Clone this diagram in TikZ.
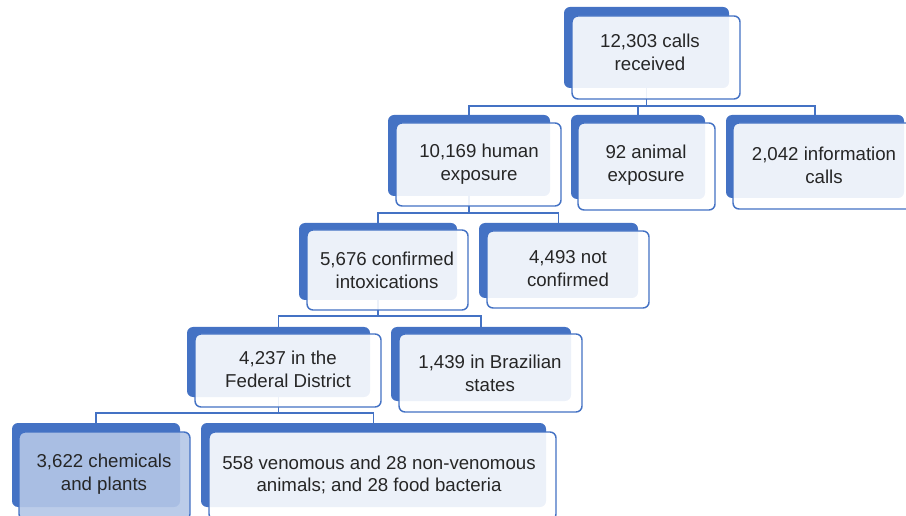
\documentclass[tikz,border=0pt]{standalone}
\usepackage{fontspec}
\setmainfont{Liberation Sans}
\definecolor{acc}{HTML}{4472C4}
\definecolor{txt}{HTML}{262626}
\definecolor{hl}{HTML}{B4C7E7}
\tikzset{
  back/.style={rectangle, rounded corners=4.5pt, fill=acc, inner sep=0pt, outer sep=0pt},
  front/.style={rectangle, rounded corners=4.5pt, draw=acc, line width=1.1pt, fill=white, fill opacity=0.9, inner sep=0pt, outer sep=0pt},
  fronthl/.style={front, fill=hl},
  conn/.style={draw=acc, line width=1pt},
  lbl/.style={font=\fontsize{14}{17}\selectfont, text=txt, align=center, inner sep=0pt}
}
\newcommand\placebox[6]{\node[#6, minimum width={(#4-#2)*0.75pt}, minimum height={(#5-#3)*0.75pt}] (#1) at ({(#2+#4)/2},{(#3+#5)/2}) {};}
\begin{document}
\begin{tikzpicture}[x=0.75pt,y=-0.75pt]
\useasboundingbox (0,0) rectangle (906,516);
% back boxes
\placebox{a}{564}{7}{729}{88}{back}
\placebox{b}{388}{115}{550}{196}{back}
\placebox{c}{571}{115}{705}{199}{back}
\placebox{d}{726}{115}{904}{198}{back}
\placebox{e}{299}{223}{457}{300}{back}
\placebox{f}{479}{223}{638}{298}{back}
\placebox{g}{187}{327}{370}{397}{back}
\placebox{h}{391}{327}{571}{401}{back}
\placebox{i}{12}{423}{180}{507}{back}
\placebox{j}{201}{423}{546}{507}{back}
% connector levels
\coordinate (ma) at (0,106);
\coordinate (mb) at (0,213);
\coordinate (me) at (0,316);
\coordinate (mg) at (0,413);
\draw[conn] (a.south) -- (a.south |- ma);
\draw[conn] (b.north) -- (b.north |- ma) -- (d.north |- ma) -- (d.north);
\draw[conn] (c.north) -- (c.north |- ma);
\draw[conn] (b.south) -- (b.south |- mb);
\draw[conn] (e.north) -- (e.north |- mb) -- (f.north |- mb) -- (f.north);
\draw[conn] (e.south) -- (e.south |- me);
\draw[conn] (g.north) -- (g.north |- me) -- (h.north |- me) -- (h.north);
\draw[conn] (g.south) -- (g.south |- mg);
\draw[conn] (i.north) -- (i.north |- mg) -- (j.north |- mg) -- (j.north);
% front boxes
\placebox{af}{572}{16}{740}{99}{front}
\placebox{bf}{396}{123}{561}{206}{front}
\placebox{cf}{578}{123}{715}{210}{front}
\placebox{df}{733}{123}{915}{209}{front}
\placebox{ef}{307}{230}{468}{310}{front}
\placebox{ff}{487}{231}{649}{308}{front}
\placebox{gf}{195}{334}{381}{407}{front}
\placebox{hf}{399}{334}{582}{412}{front}
\placebox{if}{19}{432}{190}{520}{fronthl}
\placebox{jf}{209}{432}{556}{520}{front}
% labels
\node[lbl] (at) at (650,52.5) {12,303 calls\\received};
\node[lbl] (bt) at (479,164) {10,169 human\\exposure};
\node[lbl] (ct) at (646,165.5) {92 animal\\exposure};
\node[lbl] (dt) at (824,165.5) {2,042 information\\calls};
\node[lbl] (et) at (387,270) {5,676 confirmed\\intoxications};
\node[lbl] (ft) at (568,268.5) {4,493 not\\confirmed};
\node[lbl] (gt) at (288,369.5) {4,237 in the\\Federal District};
\node[lbl] (ht) at (490,373) {1,439 in Brazilian\\states};
\node[lbl] (it) at (104,474) {3,622 chemicals\\and plants};
\node[lbl] (jt) at (379,475) {558 venomous and 28 non-venomous\\animals; and 28 food bacteria};
\end{tikzpicture}
\end{document}
